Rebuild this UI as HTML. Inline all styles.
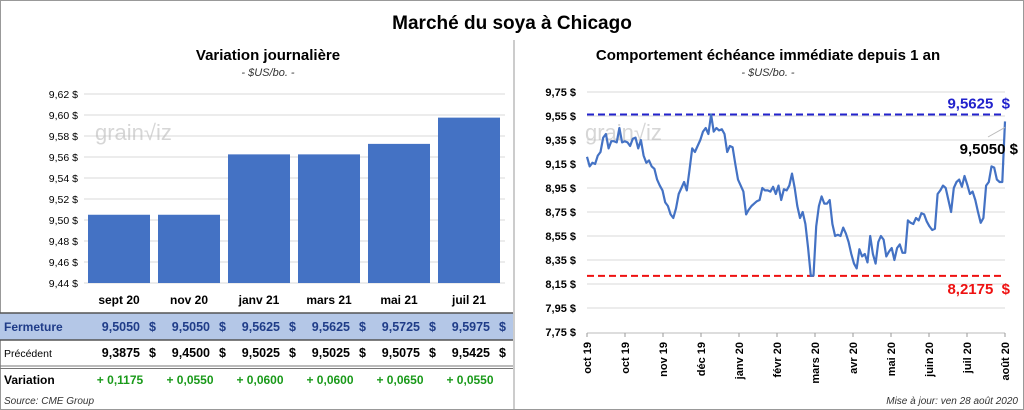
<!DOCTYPE html>
<html><head><meta charset="utf-8"><style>
body{margin:0;background:#fff;}
svg{display:block;font-family:"Liberation Sans",sans-serif;}
</style></head><body>
<svg id="s" width="1024" height="410" viewBox="0 0 1024 410">
<rect x="0.5" y="0.5" width="1023" height="409" fill="#fff" stroke="#999"/>
<line x1="514" y1="40" x2="514" y2="410" stroke="#999"/>
<text x="512" y="29" text-anchor="middle" font-size="19" font-weight="bold">Marché du soya à Chicago</text>
<text x="268" y="60" text-anchor="middle" font-size="15" font-weight="bold">Variation  journalière</text>
<text x="268" y="76" text-anchor="middle" font-size="11" font-style="italic" fill="#333">- $US/bo. -</text>
<text x="768" y="60" text-anchor="middle" font-size="15" font-weight="bold">Comportement  échéance immédiate depuis 1 an</text>
<text x="768" y="76" text-anchor="middle" font-size="11" font-style="italic" fill="#333">- $US/bo. -</text>
<g id="left"></g>
<g id="right"></g>
<text x="4" y="404" font-size="10" font-style="italic" fill="#333">Source: CME Group</text>
<text x="1018" y="404" text-anchor="end" font-size="10" font-style="italic" fill="#333">Mise à jour: ven 28 août 2020</text>
</svg>
<script>
const barCats=["sept 20","nov 20","janv 21","mars 21","mai 21","juil 21"];
const barVals=[9.505,9.505,9.5625,9.5625,9.5725,9.5975];
const prevVals=[9.3875,9.45,9.5025,9.5025,9.5075,9.5425];
const leftTicks=[9.44,9.46,9.48,9.50,9.52,9.54,9.56,9.58,9.60,9.62];
const rightTicks=[7.75,7.95,8.15,8.35,8.55,8.75,8.95,9.15,9.35,9.55,9.75];
const monthLabels=["oct 19","oct 19","nov 19","déc 19","janv 20","févr 20","mars 20","avr 20","mai 20","juin 20","juil 20","août 20"];
const prices=[9.21,9.13,9.16,9.15,9.22,9.25,9.37,9.40,9.28,9.34,9.34,9.33,9.45,9.33,9.34,9.33,9.30,9.36,9.37,9.28,9.35,9.22,9.16,9.18,9.13,9.11,9.02,8.97,8.93,8.83,8.80,8.73,8.70,8.78,8.90,8.95,9.00,8.93,9.10,9.28,9.25,9.30,9.35,9.42,9.45,9.40,9.5625,9.42,9.45,9.43,9.44,9.40,9.25,9.30,9.29,9.15,9.02,8.97,8.92,8.73,8.77,8.80,8.82,8.84,8.85,8.95,8.93,8.93,8.92,8.96,8.90,8.97,8.85,8.94,8.93,8.97,9.07,8.95,8.80,8.70,8.75,8.65,8.45,8.2175,8.22,8.63,8.80,8.88,8.82,8.82,8.85,8.65,8.55,8.56,8.55,8.62,8.57,8.50,8.40,8.32,8.28,8.44,8.38,8.40,8.33,8.55,8.40,8.32,8.50,8.55,8.52,8.38,8.42,8.45,8.35,8.45,8.48,8.41,8.41,8.68,8.66,8.65,8.70,8.68,8.74,8.73,8.67,8.63,8.60,8.61,8.90,8.93,8.97,8.95,8.85,8.75,8.95,9.00,9.02,8.96,9.05,8.98,8.90,8.92,8.85,8.75,8.66,8.70,8.97,9.00,9.13,9.12,9.02,9.00,9.00,9.505];
const maxVal=9.5625, minVal=8.2175, lastVal=9.505;

const NS="http://www.w3.org/2000/svg";
function mk(p,t,a,txt){const e=document.createElementNS(NS,t);for(const k in a)e.setAttribute(k,a[k]);if(txt!==undefined)e.textContent=txt;p.appendChild(e);return e;}
const fmt=(v,d)=>v.toFixed(d).replace('.',',');

// LEFT
const L=document.getElementById('left');
const ly=v=>283-(v-9.44)/(9.62-9.44)*189;
const lx=i=>84+i*70;
leftTicks.forEach(t=>{
 const g=mk(L,'line',{x1:84,x2:505,y1:ly(t),y2:ly(t),stroke:'#d9d9d9'});
 
 const tx=mk(L,'text',{x:78,y:ly(t)+4,'text-anchor':'end','font-size':10.5},fmt(t,2)+' $');
 
});
mk(L,'rect',{x:0,y:313,width:513,height:27,fill:'#b4c7e7'});
[313,340].forEach(y=>mk(L,'line',{x1:0,x2:513,y1:y,y2:y,stroke:'#555','stroke-width':1.5}));
mk(L,'line',{x1:0,x2:513,y1:366,y2:366,stroke:'#777','stroke-width':1});
mk(L,'line',{x1:0,x2:513,y1:368.5,y2:368.5,stroke:'#777','stroke-width':1});
mk(L,'text',{x:4,y:331,'font-size':12,'font-weight':'bold',fill:'#1f3c88'},'Fermeture');
mk(L,'text',{x:4,y:357,'font-size':10.5},'Précédent');
mk(L,'text',{x:4,y:384,'font-size':12,'font-weight':'bold'},'Variation');
barCats.forEach((c,i)=>{
 const v=barVals[i],x=lx(i)+4;
 const b=mk(L,'rect',{x:x,y:ly(v),width:62,height:283-ly(v),fill:'#4472c4'});
 
 
 const cx=x+31;
 const l=mk(L,'text',{x:cx,y:304,'text-anchor':'middle','font-size':12,'font-weight':'bold'},c);
 
 const a=mk(L,'text',{x:cx+21,y:331,'text-anchor':'end','font-size':12.5,'font-weight':'bold',fill:'#1f3c88'},fmt(v,4));
 
 mk(L,'text',{x:cx+37,y:331,'text-anchor':'end','font-size':12.5,'font-weight':'bold',fill:'#1f3c88'},'$');
 const p=mk(L,'text',{x:cx+21,y:357,'text-anchor':'end','font-size':12.5,'font-weight':'bold'},fmt(prevVals[i],4));
 
 mk(L,'text',{x:cx+37,y:357,'text-anchor':'end','font-size':12.5,'font-weight':'bold'},'$');
 const d=v-prevVals[i];
 const q=mk(L,'text',{x:cx+1,y:384,'text-anchor':'middle','font-size':12,'font-weight':'bold',fill:'#1a9a1a'},(d>=0?'+ ':'- ')+fmt(Math.abs(d),4));
 
});
mk(L,'text',{x:95,y:140,'font-size':22,fill:'#bbb','fill-opacity':0.6},'grain√iz');

// RIGHT
const R=document.getElementById('right');
const x0=587,x1=1005;
const ry=v=>332-(v-7.75)/2.0*240;
rightTicks.forEach(t=>{
 if(t>7.75){const g=mk(R,'line',{x1:x0,x2:x1,y1:ry(t),y2:ry(t),stroke:'#d9d9d9'});}
 const tx=mk(R,'text',{x:576,y:ry(t)+4,'text-anchor':'end','font-size':11,'font-weight':'bold'},fmt(t,2)+' $');
 
});
mk(R,'line',{x1:x0,x2:x1,y1:333,y2:333,stroke:'#bbb'});
monthLabels.forEach((m,i)=>{
 const x=x0+i*(x1-x0)/(monthLabels.length-1);
 mk(R,'line',{x1:x,x2:x,y1:333,y2:337,stroke:'#999'});
 const t=mk(R,'text',{x:0,y:0,transform:`translate(${x+4},342) rotate(-90)`,'text-anchor':'end','font-size':11,'font-weight':'bold'},m);
 
});
mk(R,'text',{x:585,y:140,'font-size':22,fill:'#bbb','fill-opacity':0.6},'grain√iz');
const hl=mk(R,'line',{x1:x0,x2:x1,y1:ry(maxVal),y2:ry(maxVal),stroke:'#2222cc','stroke-width':2,'stroke-dasharray':'7,4'});

const ll=mk(R,'line',{x1:x0,x2:x1,y1:ry(minVal),y2:ry(minVal),stroke:'#ee1111','stroke-width':2,'stroke-dasharray':'7,4'});

const n=prices.length;
const px=i=>x0+i*(x1-x0)/(n-1);
let d='';prices.forEach((v,i)=>d+=(i?'L':'M')+px(i).toFixed(1)+' '+ry(v).toFixed(1));
const pl=mk(R,'path',{d:d,fill:'none',stroke:'#4472c4','stroke-width':2.2,'stroke-linejoin':'round'});

mk(R,'text',{x:1010,y:ry(maxVal)-6,'text-anchor':'end','font-size':15,'font-weight':'bold',fill:'#2222cc'},fmt(maxVal,4)+'\u00a0\u00a0$');
mk(R,'text',{x:1010,y:ry(minVal)+18,'text-anchor':'end','font-size':15,'font-weight':'bold',fill:'#ee1111'},fmt(minVal,4)+'\u00a0\u00a0$');
mk(R,'line',{x1:988,y1:137,x2:px(n-1),y2:ry(lastVal)+6,stroke:'#bbb'});
mk(R,'text',{x:1018,y:154,'text-anchor':'end','font-size':15,'font-weight':'bold'},fmt(lastVal,4)+' $');
</script>
</body></html>
